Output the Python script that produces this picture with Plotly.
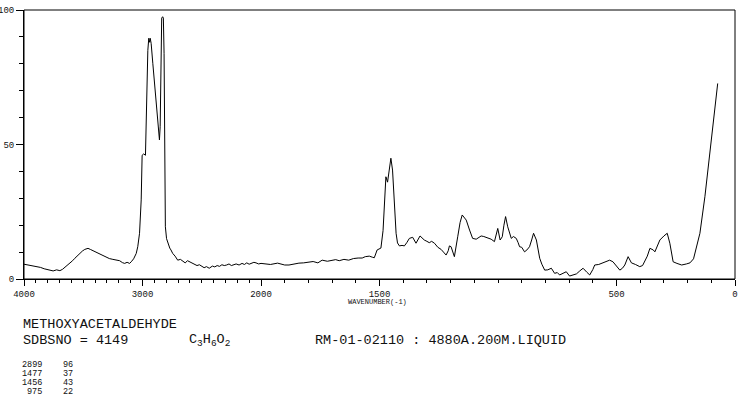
import plotly.graph_objects as go

# ---- data ----
wn_high = [4000, 3960, 3930, 3893, 3860, 3830, 3809, 3780, 3754, 3725, 3697, 3675, 3655, 3635, 3613,
           3590, 3571, 3550, 3529, 3507, 3487, 3470, 3460, 3440, 3418, 3390, 3361, 3335, 3305, 3280,
           3250, 3220, 3193, 3170, 3151, 3130, 3109, 3095, 3075, 3053, 3040, 3025, 3011, 3003, 2990,
           2975, 2969, 2955, 2947, 2940, 2935, 2927, 2913, 2899, 2885, 2876, 2871, 2863, 2857, 2851,
           2843, 2838, 2830, 2824, 2818, 2807, 2797, 2787, 2770, 2760, 2745, 2725, 2703, 2680, 2660,
           2640, 2620, 2605, 2580, 2560, 2540, 2520, 2500, 2480, 2460, 2437, 2410, 2390, 2370, 2350,
           2330, 2310, 2290, 2270, 2250, 2230, 2210, 2185, 2160, 2140, 2120, 2100, 2080, 2060, 2042,
           2020, 2000]
int_high = [5.5, 5.2, 4.9, 4.6, 4.3, 3.8, 3.6, 3.2, 3.0, 3.4, 3.1, 3.6, 4.3, 5.0, 5.8,
            6.8, 7.7, 8.6, 9.8, 10.4, 11.0, 11.2, 11.4, 11.0, 10.5, 9.9, 9.3, 8.7, 8.1, 7.6,
            7.3, 7.0, 6.8, 6.1, 5.8, 6.2, 5.8, 6.4, 7.5, 9.5, 12, 17, 29.4, 46, 46.5,
            46, 60.3, 85, 89.5, 88, 89.5, 87.6, 80.2, 72.7, 66.5, 60.3, 56.6, 52.9, 51.7, 56.6,
            81.4, 97, 97.5, 97, 83.9, 19.4, 15, 13.3, 11.5, 10.8, 9.5, 8.5, 7, 7.3, 6.5,
            6.0, 6.8, 6.4, 5.8, 5.5, 5.0, 5.3, 4.6, 4.2, 4.6, 4.0, 4.8, 4.5, 5.0, 4.7,
            5.3, 5.0, 5.2, 5.6, 5.0, 5.4, 5.6, 5.2, 5.8, 5.4, 6.0, 5.5, 5.8, 6.2, 6.0,
            5.6, 5.8]

wn_low = [2000, 1960, 1930, 1900, 1882, 1860, 1840, 1820, 1797, 1780, 1760, 1742, 1720, 1700, 1685,
          1670, 1650, 1630, 1610, 1590, 1573, 1560, 1543, 1530, 1522, 1510, 1494, 1485, 1480, 1473,
          1466, 1456, 1452, 1445, 1438, 1430, 1424, 1416, 1405, 1395, 1385, 1374, 1360, 1346, 1329,
          1320, 1311, 1300, 1290, 1280, 1268, 1254, 1240, 1230, 1219, 1210, 1205, 1198, 1190, 1184,
          1170, 1160, 1151, 1140, 1134, 1120, 1107, 1092, 1080, 1071, 1060, 1050, 1040, 1029, 1015,
          1001, 991, 982, 975, 968, 959, 944, 935, 923, 915, 909, 900, 888, 878, 867,
          858, 850, 838, 830, 824, 815, 803, 790, 775, 761, 750, 740, 725, 712, 698,
          685, 669, 655, 641, 625, 613, 600, 592, 575, 564, 545, 529, 515, 500, 486,
          475, 465, 451, 437, 420, 402, 390, 381, 370, 359, 345, 338, 325, 317, 300,
          286, 275, 268, 261, 245, 225, 205, 190, 175, 169, 148, 127, 106, 92, 73]
int_low = [5.8, 5.4, 5.9, 5.2, 5.2, 5.6, 5.9, 6.0, 6.3, 6.5, 6.0, 7.0, 6.6, 6.9, 7.2,
           6.8, 7.3, 7.0, 7.6, 7.8, 7.8, 8.3, 8.5, 8.1, 7.9, 10.8, 11.5, 18, 25.6, 38,
           36, 41.8, 44.9, 40.5, 26.9, 17, 13.4, 12.3, 12.5, 12.3, 13.5, 15.1, 15.5, 13.3, 16,
           15.2, 14.5, 14.0, 13.5, 14.0, 13.3, 11.8, 11, 10.0, 8.9, 10.5, 12.3, 12.0, 10.0, 8.3,
           15.7, 21, 23.8, 22.5, 21.9, 18.2, 15.1, 14.8, 15.4, 16, 15.8, 15.5, 15.0, 14.8, 13.9,
           18.8, 14.5, 15.7, 20, 23.2, 19.4, 15.1, 15.8, 15.1, 13.5, 12, 11.8, 10.1, 10.8, 12,
           14.5, 17, 14.5, 11, 7.7, 5.5, 3.3, 3.4, 4.0, 2.1, 2.4, 1.5, 2.3, 2.7, 1.1,
           1.5, 1.9, 3.0, 4.0, 2.5, 1.5, 3.5, 5.2, 5.4, 5.8, 6.5, 7.0, 6.4, 4.8, 3.3,
           4.0, 5.2, 8.3, 6.0, 5.4, 4.6, 5.0, 6.4, 8.5, 11.4, 10.8, 10.1, 12.5, 14.5, 16.0,
           17, 13.3, 9.0, 6.4, 5.8, 5.2, 5.6, 6.0, 7.5, 9.5, 17, 30.6, 46.7, 59, 72.7]

x1_ticks = [4000, 3000, 2000]
x1_ticktext = ["4000", "3000", "2000"]
x2_ticks = [1500, 500, 0]
x2_ticktext = ["1500", "500", "0"]
y_ticks = [0, 50, 100]
y_ticktext = ["0", "50", "100"]

compound = "METHOXYACETALDEHYDE"
sdbs_line = "SDBSNO = 4149"
formula = "C<sub>3</sub>H<sub>6</sub>O<sub>2</sub>"
condition = "RM-01-02110 : 4880A.200M.LIQUID"
peak_wn = ["2899", "1477", "1456", "975"]
peak_int = ["96", "37", "43", "22"]

# ---- figure ----
W, H = 738, 398
L, R, T, B = 24, 3, 10, 119
PW, PH = W - L - R, H - T - B

def px(x):
    return (x - L) / PW

def py(y):
    return (T + PH - y) / PH

FONT = "Liberation Mono"
line = dict(color="black", width=1)

fig = go.Figure()
fig.add_trace(go.Scatter(x=wn_high, y=int_high, mode="lines", line=line,
                         xaxis="x", yaxis="y", showlegend=False, hoverinfo="skip"))
fig.add_trace(go.Scatter(x=wn_low, y=int_low, mode="lines", line=line,
                         xaxis="x2", yaxis="y", showlegend=False, hoverinfo="skip"))

tickfont = dict(family=FONT, size=9, color="#111")
common_x = dict(showgrid=False, zeroline=False, showline=True, linecolor="black", linewidth=1,
                ticks="outside", ticklen=6, tickwidth=1, tickcolor="black", tickfont=tickfont,
                tickmode="array", anchor="y", automargin=False,
                minor=dict(dtick=100, tick0=0, ticks="outside", ticklen=3,
                           tickwidth=1, tickcolor="black", showgrid=False))

fig.update_layout(
    width=W, height=H,
    margin=dict(l=L, r=R, t=T, b=B, pad=0, autoexpand=False),
    paper_bgcolor="white", plot_bgcolor="white",
    xaxis=dict(domain=[0, 1 / 3], range=[4000, 2000], tickvals=x1_ticks, ticktext=x1_ticktext, **common_x),
    xaxis2=dict(domain=[1 / 3, 1], range=[2000, 0], tickvals=x2_ticks, ticktext=x2_ticktext, **common_x),
    yaxis=dict(domain=[0, 1], range=[0, 100], showgrid=False, zeroline=False,
               showline=True, linecolor="black", linewidth=1, automargin=False,
               ticks="outside", ticklen=7, tickwidth=1, tickcolor="black",
               tickmode="array", tickvals=y_ticks, ticktext=y_ticktext, tickfont=tickfont,
               ticklabelstandoff=0,
               minor=dict(dtick=10, tick0=0, ticks="outside", ticklen=4,
                          tickwidth=1, tickcolor="black", showgrid=False)),
    shapes=[dict(type="rect", xref="paper", yref="paper", x0=0, x1=1, y0=0, y1=1,
                 line=dict(color="black", width=1), fillcolor="rgba(0,0,0,0)")],
)

def note(text, x, y, size, xanchor="left"):
    fig.add_annotation(text=text, x=px(x), y=py(y), xref="paper", yref="paper",
                       xanchor=xanchor, yanchor="middle", showarrow=False,
                       font=dict(family=FONT, size=size, color="#111"), borderpad=0)

note("WAVENUMBER(-1)", 377, 302, 7, "center")
note(compound, 22, 325, 13.5)
note(sdbs_line, 22, 340, 13.5)
note(formula, 188, 340, 13.5)
note(condition, 314, 340, 13.5)
for i, (w, v) in enumerate(zip(peak_wn, peak_int)):
    yy = 365 + 9 * i
    note(w, 43, yy, 8.5, "right")
    note(v, 62, yy, 8.5, "left")

fig.write_html(
    "out.html",
    config={"displayModeBar": False},
    post_script="document.body.style.margin='0';document.body.style.overflow='hidden';",
)
